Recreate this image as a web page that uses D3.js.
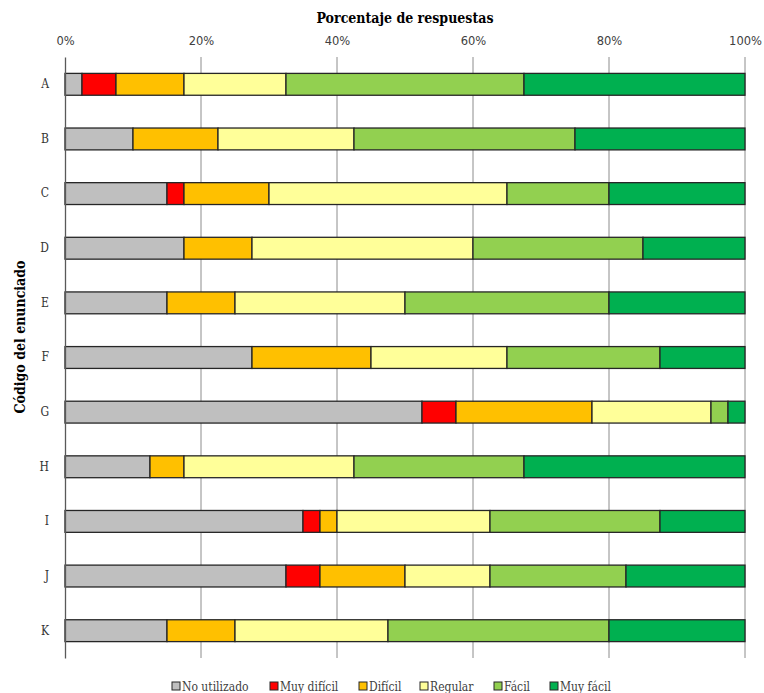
<!DOCTYPE html>
<html>
<head>
<meta charset="utf-8">
<script src="https://cdn.jsdelivr.net/npm/d3@7/dist/d3.min.js"></script>
<style>
  body { margin: 0; background: #fff; }
</style>
</head>
<body>
<svg id="chart" width="764" height="693"></svg>
<script>
// question codes, top to bottom
const codes = ["A", "B", "C", "D", "E", "F", "G", "H", "I", "J", "K"];

// answer categories and their colours
const categories = ["No utilizado", "Muy difícil", "Difícil", "Regular", "Fácil", "Muy fácil"];
const colors = ["#bfbfbf", "#ff0000", "#ffc000", "#ffff99", "#92d050", "#00b050"];

// percentages per category, in code order
const noUtilizado = [2.5, 10, 15, 17.5, 15, 27.5, 52.5, 12.5, 35, 32.5, 15];
const muyDificil  = [5, 0, 2.5, 0, 0, 0, 5, 0, 2.5, 5, 0];
const dificil     = [10, 12.5, 12.5, 10, 10, 17.5, 20, 5, 2.5, 12.5, 10];
const regular     = [15, 20, 35, 32.5, 25, 20, 17.5, 25, 22.5, 12.5, 22.5];
const facil       = [35, 32.5, 15, 25, 30, 22.5, 2.5, 25, 25, 20, 32.5];
const muyFacil    = [32.5, 25, 20, 15, 20, 12.5, 2.5, 32.5, 12.5, 17.5, 20];

const tickValues = [0, 20, 40, 60, 80, 100];

const series = [noUtilizado, muyDificil, dificil, regular, facil, muyFacil];
const rows = codes.map((c, i) => {
  const r = { code: c };
  categories.forEach((k, j) => (r[k] = series[j][i]));
  return r;
});

const serif = "'DejaVu Serif Condensed', 'DejaVu Serif', serif";
const margin = { top: 57, right: 19, bottom: 35, left: 65 };
const width = 764, height = 693;
const svg = d3.select("#chart");

const x = d3.scaleLinear().domain([0, 100]).range([margin.left, width - margin.right]);
const y = d3.scaleBand()
  .domain(codes)
  .range([margin.top, height - margin.bottom])
  .paddingInner(0.6)
  .paddingOuter(0.3);

// vertical gridlines
svg.append("g")
  .selectAll("line")
  .data(tickValues.slice(1))
  .join("line")
  .attr("x1", d => x(d)).attr("x2", d => x(d))
  .attr("y1", margin.top).attr("y2", height - margin.bottom)
  .attr("stroke", "#8c8c8c")
  .attr("stroke-width", 1);

// stacked bars
const stack = d3.stack().keys(categories)(rows);
svg.append("g")
  .selectAll("g")
  .data(stack)
  .join("g")
  .attr("fill", (d, i) => colors[i])
  .selectAll("rect")
  .data(d => d.filter(s => s[1] - s[0] > 0))
  .join("rect")
  .attr("x", d => x(d[0]))
  .attr("y", d => y(d.data.code))
  .attr("width", d => x(d[1]) - x(d[0]))
  .attr("height", y.bandwidth())
  .attr("stroke", "#262626")
  .attr("stroke-width", 1.3);

// top axis
const xAxis = d3.axisTop(x)
  .tickValues(tickValues)
  .tickFormat(d => d + "%")
  .tickSize(0)
  .tickPadding(12);
svg.append("g")
  .attr("transform", `translate(0, ${margin.top})`)
  .call(xAxis)
  .call(g => g.select(".domain").remove())
  .call(g => g.selectAll("text")
    .attr("font-family", "'DejaVu Sans', sans-serif")
    .attr("font-size", 11.5)
    .attr("fill", "#404040"));

// left axis
const yAxis = d3.axisLeft(y).tickSize(0).tickPadding(16);
svg.append("g")
  .attr("transform", `translate(${margin.left}, 0)`)
  .call(yAxis)
  .call(g => g.select(".domain").attr("stroke", "#595959").attr("stroke-width", 1.3))
  .call(g => g.selectAll("text")
    .attr("font-family", serif)
    .attr("font-size", 12)
    .attr("fill", "#333"));

// axis titles
svg.append("text")
  .attr("x", 405).attr("y", 23)
  .attr("text-anchor", "middle")
  .attr("font-family", serif)
  .attr("font-weight", "bold")
  .attr("font-size", 14)
  .text("Porcentaje de respuestas");

svg.append("text")
  .attr("transform", "translate(25, 337) rotate(-90)")
  .attr("text-anchor", "middle")
  .attr("font-family", serif)
  .attr("font-weight", "bold")
  .attr("font-size", 14)
  .text("Código del enunciado");

// legend
const legendX = [172, 270, 359, 420, 494, 550];
const legend = svg.append("g")
  .selectAll("g")
  .data(categories)
  .join("g")
  .attr("transform", (d, i) => `translate(${legendX[i]}, 686)`);
legend.append("rect")
  .attr("x", 0).attr("y", -4)
  .attr("width", 8).attr("height", 8)
  .attr("fill", (d, i) => colors[i])
  .attr("stroke", "#262626");
legend.append("text")
  .attr("x", 10).attr("y", 5)
  .attr("font-family", serif)
  .attr("font-size", 12)
  .attr("fill", "#404040")
  .text(d => d);
</script>
</body>
</html>
